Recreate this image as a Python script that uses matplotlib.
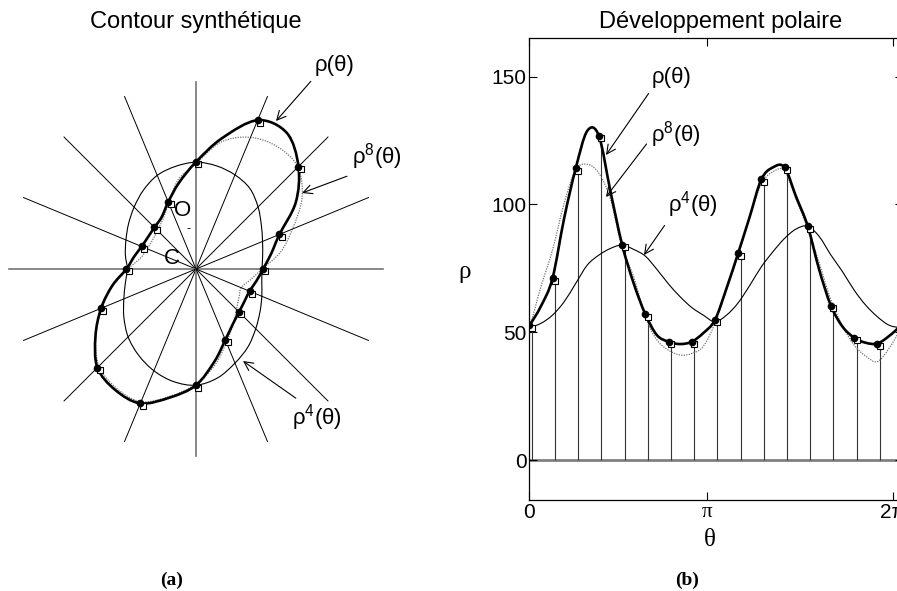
import numpy as np
import matplotlib
matplotlib.use("Agg")
from matplotlib import pyplot as plt
import matplotlib.transforms as mtransforms
from matplotlib.path import Path
from matplotlib.patches import PathPatch

W, H = 897, 591

# polar angle of every half-sample (deg), 32 points over one turn
angles_deg = np.arange(0, 360, 11.25)

# rho(theta): synthetic contour radius
rho = [52.8, 60.2, 71.1, 94.5, 114.1, 128.8, 126.8, 105.0,
       84.3, 69.1, 57.1, 48.9, 46.3, 45.4, 46.3, 49.7,
       54.8, 67.2, 80.9, 95.2, 109.8, 114.5, 114.5, 103.0,
       91.5, 74.3, 60.4, 52.2, 47.9, 45.9, 45.6, 48.5]
# rho^8(theta): 8-term polar development
rho8 = [52.0, 67.8, 82.2, 100.4, 113.5, 115.7, 112.2, 102.0,
        83.0, 71.7, 56.0, 47.0, 43.0, 41.1, 41.7, 44.5,
        53.5, 66.5, 80.0, 95.0, 108.0, 112.8, 113.1, 102.0,
        90.5, 77.0, 62.6, 52.5, 45.0, 40.7, 38.5, 43.7]
# rho^4(theta): 4-term polar development
rho4 = [52.0, 53.5, 56.7, 61.9, 69.1, 76.3, 80.2, 82.8,
        84.1, 82.4, 79.8, 74.6, 68.9, 63.9, 59.7, 56.7,
        54.1, 56.7, 61.5, 68.3, 75.6, 81.5, 86.7, 90.4,
        91.5, 87.4, 80.2, 73.7, 66.5, 60.6, 56.1, 52.8]

ray_deg = np.arange(0, 360, 22.5)
ray_len = 147

yticks = [0, 50, 100, 150]
xticks = [0, 3.0, 6.15]
xticklabels = ["0", "π", "2π"]

plt.rcParams['font.family'] = ['Liberation Sans', 'DejaVu Sans']
plt.rcParams['mathtext.fontset'] = 'custom'
plt.rcParams['mathtext.rm'] = 'Liberation Sans'

fig = plt.figure(figsize=(W / 100, H / 100), dpi=100)


def fp(x, y):
    # pixel position (from top left) -> figure fraction
    return x / W, 1 - y / H


def px(x, y):
    # pixel position (from top left) -> figure pixels
    return x, H - y


def smooth_path(xs, ys):
    # bezier (catmull-rom) through the points; first and last point only give the tangents
    p = np.column_stack([xs, ys])
    verts = [p[1]]
    codes = [Path.MOVETO]
    for i in range(1, len(p) - 2):
        c1 = p[i] + (p[i + 1] - p[i - 1]) / 6
        c2 = p[i + 1] - (p[i + 2] - p[i]) / 6
        verts += [c1, c2, p[i + 1]]
        codes += [Path.CURVE4] * 3
    return Path(verts, codes)


th = np.deg2rad(angles_deg)
th_s = th[::2]
r_s = np.array(rho)[::2]

styles = [(rho4, dict(color='k', lw=0.8)),
          (rho8, dict(color='0.45', lw=0.9, ls=(0, (1, 1)))),
          (rho, dict(color='k', lw=1.9))]

""" (a) Contour synthetique """
ax1 = fig.add_axes([0, 0, 0.5, 1])
cx, cy, s = 196, 269, 1.27
ax1.set_xlim(-cx / s, (0.5 * W - cx) / s)
ax1.set_ylim(-(H - cy) / s, cy / s)
ax1.axis('off')

for a in ray_deg:
    ar = np.deg2rad(a)
    if a % 90 == 0:
        ax1.plot([0, ray_len * np.cos(ar)], [0, ray_len * np.sin(ar)], color='0.45', lw=1.2)
    else:
        ax1.plot([0, ray_len * np.cos(ar)], [0, ray_len * np.sin(ar)], color='k', lw=0.7)

# closed loop: wrap one point on each side
idx = np.r_[len(th) - 1, np.arange(len(th)), 0, 1]
for vals, kw in styles:
    r = np.asarray(vals)[idx]
    ax1.add_patch(PathPatch(smooth_path(r * np.cos(th[idx]), r * np.sin(th[idx])),
                            fill=False, **kw))

off1 = mtransforms.offset_copy(ax1.transData, fig=fig, x=2.4, y=-2.4, units='dots')
ax1.plot(r_s * np.cos(th_s), r_s * np.sin(th_s), 's', ms=4.5, mfc='white', mec='k', mew=0.8,
         transform=off1, zorder=4)
ax1.plot(r_s * np.cos(th_s), r_s * np.sin(th_s), 'o', ms=4.5, color='k', zorder=5)

fig.text(*fp(183, 211), "O", fontsize=16, ha='center', va='center')
fig.text(*fp(172, 259), "C", fontsize=16, ha='center', va='center')
fig.text(*fp(188, 229), "-", fontsize=9, ha='center', va='center')

""" (b) Developpement polaire """
ax2 = fig.add_axes([529.3 / W, (H - 500) / H, 373.7 / W, 462 / H])
ax2.set_xlim(0, 6.325)
ax2.set_ylim(-15.6, 165.1)

ax2.axhline(0, color='0.5', lw=2, zorder=1)
offx = mtransforms.offset_copy(ax2.transData, fig=fig, x=2.4, y=0, units='dots')
ax2.vlines(th_s, 0, r_s, colors='0.2', lw=0.8, transform=offx, zorder=2)

thx = np.r_[th[-1] - 2 * np.pi, th, 2 * np.pi, 2 * np.pi + th[1]]
for vals, kw in styles:
    ax2.add_patch(PathPatch(smooth_path(thx, np.asarray(vals)[idx]), fill=False, zorder=3, **kw))

off2 = mtransforms.offset_copy(ax2.transData, fig=fig, x=2.4, y=-2.4, units='dots')
ax2.plot(th_s, r_s, 's', ms=4.5, mfc='white', mec='k', mew=0.8, transform=off2, zorder=4)
ax2.plot(th_s, r_s, 'o', ms=4.5, color='k', zorder=5)

ax2.set_xlim(0, 6.325)
ax2.set_ylim(-15.6, 165.1)
ax2.set_yticks(yticks)
ax2.set_xticks(xticks)
ax2.set_xticklabels(xticklabels)
ax2.xaxis.get_ticklabels()[1].set_family('Liberation Serif')
ax2.tick_params(direction='in', length=5.8, width=0.8, top=True, right=True,
                labelsize=15, pad=2)
for sp in ax2.spines.values():
    sp.set_linewidth(0.9)

fig.text(*fp(465, 272), "ρ", fontsize=18, family='Liberation Serif', ha='center', va='center')
fig.text(*fp(710, 540), "θ", fontsize=18, family='Liberation Serif', ha='center', va='center')

""" titles, captions """
fig.text(*fp(196, 22), "Contour synthétique", fontsize=17, ha='center', va='center')
fig.text(*fp(721, 22), "Développement polaire", fontsize=17, ha='center', va='center')
fig.text(*fp(172, 580), "(a)", fontsize=14, family='Liberation Serif', weight='bold',
         ha='center', va='center')
fig.text(*fp(687, 580), "(b)", fontsize=14, family='Liberation Serif', weight='bold',
         ha='center', va='center')

""" arrows """
labels = [
    (ax1, "ρ(θ)", (276, 121), (335, 66), (0.0, 0.0)),
    (ax1, "ρ$^8$(θ)", (302, 193), (377, 157), (0.1, 0.0)),
    (ax1, "ρ$^4$(θ)", (243, 361), (317, 418), (0.2, 1.0)),
    (ax2, "ρ(θ)", (606, 155), (672, 78), (0.0, 0.0)),
    (ax2, "ρ$^8$(θ)", (606, 197), (676, 135), (0.0, 0.4)),
    (ax2, "ρ$^4$(θ)", (644, 255), (693, 205), (0.0, 0.0)),
]
for ax, txt, tip, pos, rel in labels:
    ax.annotate(txt, xy=px(*tip), xytext=px(*pos), xycoords='figure pixels',
                textcoords='figure pixels', fontsize=16, ha='center', va='center', zorder=6,
                arrowprops=dict(arrowstyle='->', lw=0.8, color='k', shrinkA=2, shrinkB=0,
                                mutation_scale=16, relpos=rel))

fig.savefig("out.png", dpi=100)
